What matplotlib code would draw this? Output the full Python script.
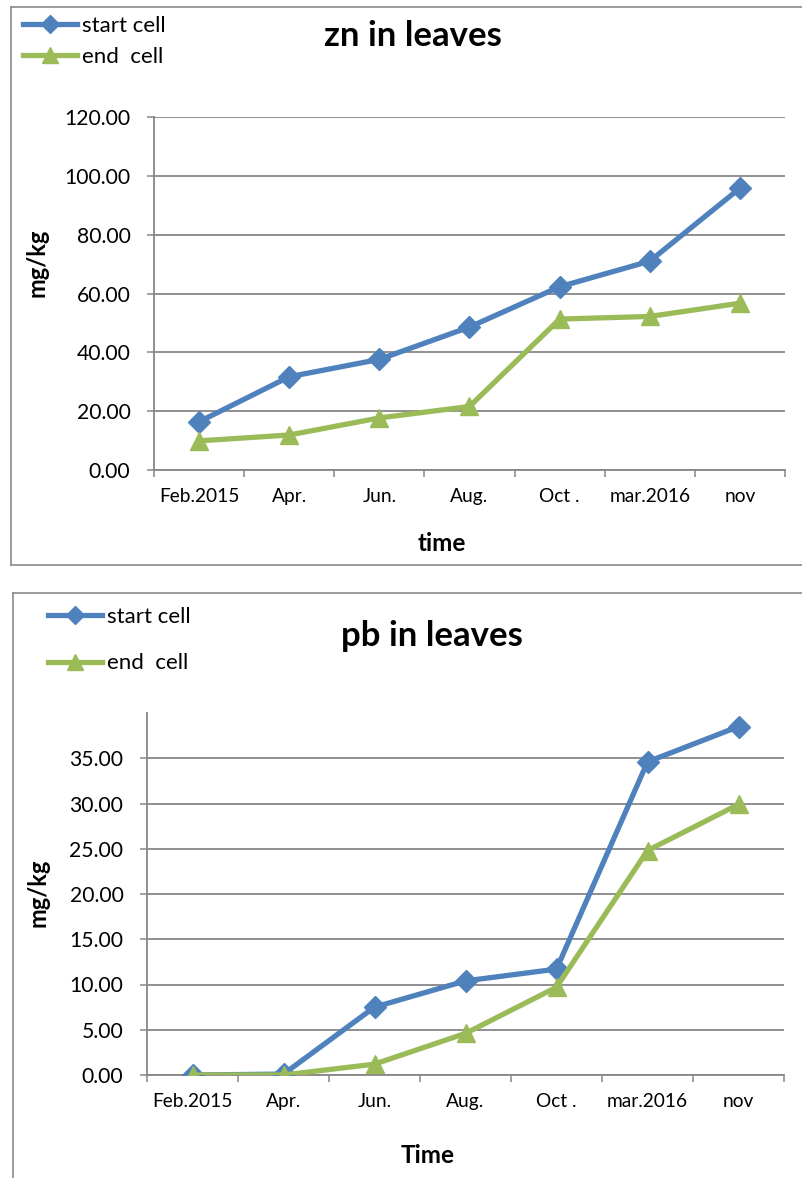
import matplotlib
matplotlib.use("Agg")
import matplotlib.pyplot as plt
from matplotlib.lines import Line2D

plt.rcParams['font.family'] = ['Lato', 'DejaVu Sans']

# Sampling dates shared by both charts
months = ["Feb.2015", "Apr.", "Jun.", "Aug.", "Oct .", "mar.2016", "nov"]

# Zinc concentration in leaves (mg/kg)
zn_start = [16.4, 31.7, 37.6, 48.6, 62.3, 71.0, 95.8]
zn_end = [9.9, 11.9, 17.7, 21.6, 51.3, 52.2, 56.7]

# Lead concentration in leaves (mg/kg)
pb_start = [0.0, 0.1, 7.5, 10.4, 11.7, 34.6, 38.5]
pb_end = [0.0, 0.0, 1.2, 4.6, 9.7, 24.8, 29.9]

series_names = ["start cell", "end  cell"]

BLUE = "#4F81BD"
GREEN = "#9BBB59"
GREY = "#878787"

W, H = 803, 1178
fig = plt.figure(figsize=(W / 100, H / 100), dpi=100)


def fx(px):
    return px / W


def fy(py):
    return 1 - py / H


def draw_chart(rect, start, end, ymax, yticks, title, xlabel,
               title_xy, xlabel_xy, ylabel_xy, legend_xy, legend_gap):
    ax = fig.add_axes(rect)
    x = list(range(len(months)))
    ax.plot(x, start, color=BLUE, lw=3.8, marker="D", ms=11,
            label=series_names[0], solid_joinstyle="round", zorder=3)
    ax.plot(x, end, color=GREEN, lw=3.8, marker="^", ms=13.5,
            label=series_names[1], solid_joinstyle="round", zorder=3)
    ax.set_xlim(-0.5, len(months) - 0.5)
    ax.set_ylim(0, ymax)
    ax.set_yticks(yticks)
    ax.set_yticklabels([f"{v:.2f}" for v in yticks])
    ax.set_xticks([i - 0.5 for i in range(len(months) + 1)])
    ax.set_xticklabels([])
    ax.set_xticks(x, minor=True)
    ax.set_xticklabels(months, minor=True)
    ax.tick_params(axis="x", which="minor", length=0, pad=13, labelsize=13.8)
    ax.tick_params(axis="x", which="major", length=5, width=1.1, color=GREY)
    ax.tick_params(axis="y", length=5, width=1.1, color=GREY, pad=12,
                   labelsize=15.2)
    for s in ("top", "right"):
        ax.spines[s].set_visible(False)
    for s in ("left", "bottom"):
        ax.spines[s].set_color(GREY)
        ax.spines[s].set_linewidth(1.3)
    ax.yaxis.grid(True, color=GREY, lw=1.3)
    ax.set_axisbelow(True)

    fig.text(fx(title_xy[0]), fy(title_xy[1]), title, ha="center",
             va="baseline", fontsize=25, fontweight="bold")
    fig.text(fx(xlabel_xy[0]), fy(xlabel_xy[1]), xlabel, ha="center",
             va="baseline", fontsize=17.5, fontweight="bold")
    fig.text(fx(ylabel_xy[0]), fy(ylabel_xy[1]), "mg/kg", ha="center",
             va="center", rotation=90, fontsize=17, fontweight="bold")

    handles, labels = ax.get_legend_handles_labels()
    fig.legend(handles, labels, loc="center left",
               bbox_to_anchor=(fx(legend_xy[0]), fy(legend_xy[1])),
               frameon=False, borderpad=0, borderaxespad=0,
               handlelength=2.45, handletextpad=0.2, numpoints=1,
               labelspacing=legend_gap, fontsize=16, markerscale=0.85)
    return ax


top_rect = [fx(154), fy(470), fx(785) - fx(154), fy(117) - fy(470)]
draw_chart(top_rect, zn_start, zn_end, 120, list(range(0, 121, 20)),
           "zn in leaves", "time",
           title_xy=(413, 46), xlabel_xy=(442, 551), ylabel_xy=(37, 263),
           legend_xy=(23, 41.5), legend_gap=0.48)

bot_rect = [fx(147), fy(1075), fx(784) - fx(147), fy(713) - fy(1075)]
draw_chart(bot_rect, pb_start, pb_end, 40, list(range(0, 36, 5)),
           "pb in leaves", "Time",
           title_xy=(432, 646), xlabel_xy=(428, 1163), ylabel_xy=(38, 893),
           legend_xy=(48, 640), legend_gap=1.2)

# Chart area borders
border = dict(color="#8a8a8a", lw=1.2, transform=fig.transFigure)
fig.add_artist(Line2D([fx(11), fx(11)], [fy(7), fy(565)], **border))
fig.add_artist(Line2D([fx(11), 1.01], [fy(7), fy(7)], **border))
fig.add_artist(Line2D([fx(11), 1.01], [fy(565), fy(565)], **border))
fig.add_artist(Line2D([fx(13), fx(13)], [fy(593), -0.01], **border))
fig.add_artist(Line2D([fx(13), 1.01], [fy(593), fy(593)], **border))

fig.savefig("out.png", dpi=100, facecolor="white")
